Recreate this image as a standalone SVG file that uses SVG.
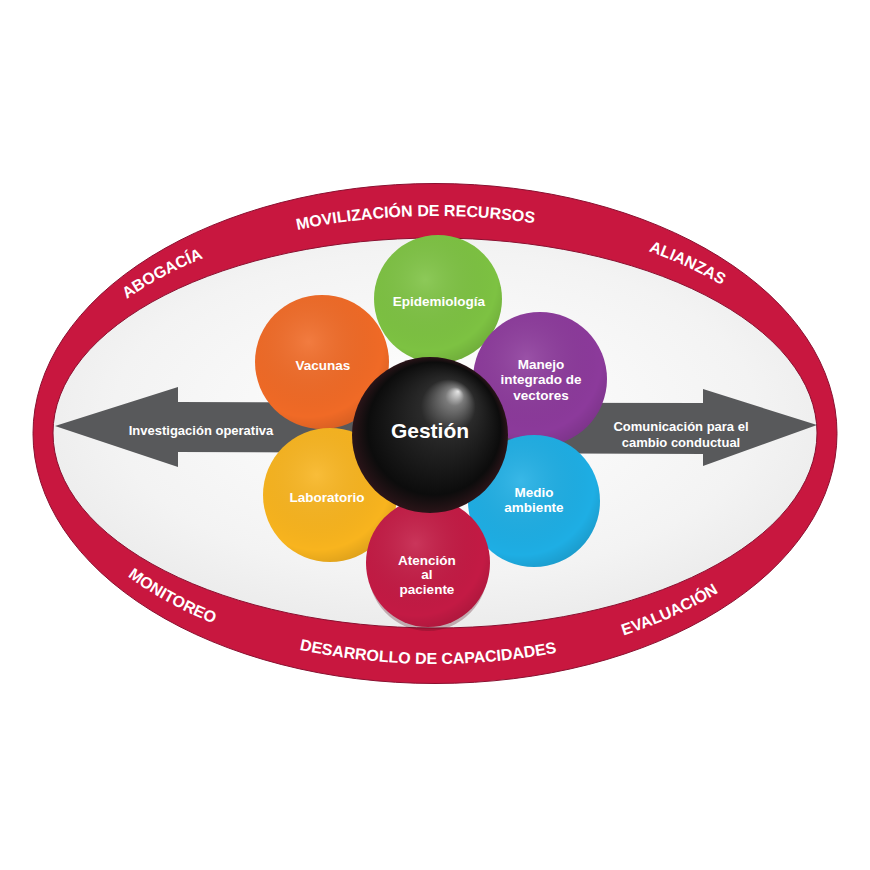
<svg xmlns="http://www.w3.org/2000/svg" width="870" height="870" viewBox="0 0 870 870">
<defs>
<style>
.ring{font-family:"Liberation Sans","DejaVu Sans",sans-serif;font-weight:bold;font-size:16px;fill:#ffffff}
.pl{font-family:"Liberation Sans","DejaVu Sans",sans-serif;font-weight:bold;font-size:13.5px;fill:#ffffff;text-anchor:middle}
.al{font-family:"Liberation Sans","DejaVu Sans",sans-serif;font-weight:bold;font-size:13px;fill:#ffffff;text-anchor:middle}
.petal{stroke:none}
</style>
<radialGradient id="bg" cx="50%" cy="45%" r="60%">
<stop offset="0" stop-color="#ffffff"/>
<stop offset="0.7" stop-color="#f3f3f3"/>
<stop offset="1" stop-color="#e9e9e9"/>
</radialGradient>
<radialGradient id="sphere" cx="50%" cy="50%" r="50%" fx="68%" fy="22%">
<stop offset="0" stop-color="#e8e8e8"/>
<stop offset="0.12" stop-color="#7a7a7a"/>
<stop offset="0.35" stop-color="#2a2a2a"/>
<stop offset="0.85" stop-color="#0c0c0c"/>
<stop offset="1" stop-color="#2a1418"/>
</radialGradient>
<radialGradient id="shade" cx="40%" cy="35%" r="70%">
<stop offset="0" stop-color="#ffffff" stop-opacity="0.12"/>
<stop offset="0.8" stop-color="#000000" stop-opacity="0"/>
<stop offset="1" stop-color="#000000" stop-opacity="0.12"/>
</radialGradient>
<path id="topArc" d="M 43 433 A 392 217 0 0 1 827 433"/>
<path id="botArc" d="M 43 433 A 392 231 0 0 0 827 433"/>
</defs>
<rect width="870" height="870" fill="#ffffff"/>
<g id="ring">
<ellipse cx="435" cy="433.5" rx="402" ry="250" fill="#c8173f" stroke="#8a1030" stroke-width="1"/>
<ellipse cx="435" cy="433" rx="382" ry="195" fill="url(#bg)" stroke="#8a1030" stroke-width="1"/>
<text class="ring"><textPath href="#topArc" startOffset="21.3%" text-anchor="middle">ABOGACÍA</textPath></text>
<text class="ring"><textPath href="#topArc" startOffset="48%" text-anchor="middle">MOVILIZACIÓN DE RECURSOS</textPath></text>
<text class="ring"><textPath href="#topArc" startOffset="76.4%" text-anchor="middle">ALIANZAS</textPath></text>
<text class="ring"><textPath href="#botArc" startOffset="22.3%" text-anchor="middle">MONITOREO</textPath></text>
<text class="ring"><textPath href="#botArc" startOffset="49.3%" text-anchor="middle">DESARROLLO  DE  CAPACIDADES</textPath></text>
<text class="ring"><textPath href="#botArc" startOffset="74.5%" text-anchor="middle">EVALUACIÓN</textPath></text>
</g>
<g id="connectors">
<path d="M 55 426 L 178 387 L 178 402 L 703 403 L 703 389 L 817 425 L 703 466 L 703 454 L 178 452 L 178 467 Z" fill="#58595b"/>
<text class="al" x="201" y="435">Investigación operativa</text>
<text class="al" x="681" y="431">Comunicación para el</text>
<text class="al" x="681" y="447">cambio conductual</text>
</g>
<g id="epidemiologia">
<circle class="petal" cx="438" cy="299" r="64" fill="#7dc242"/>
<circle cx="438" cy="299" r="64" fill="url(#shade)"/>
<text class="pl" x="439" y="306">Epidemiología</text>
</g>
<g id="vacunas">
<circle class="petal" cx="322" cy="362" r="67" fill="#f06a26"/>
<circle cx="322" cy="362" r="67" fill="url(#shade)"/>
<text class="pl" x="323" y="370">Vacunas</text>
</g>
<g id="manejo">
<circle class="petal" cx="540" cy="379" r="67" fill="#8c3a9b"/>
<circle cx="540" cy="379" r="67" fill="url(#shade)"/>
<text class="pl" x="541" y="369">Manejo</text>
<text class="pl" x="541" y="384">integrado de</text>
<text class="pl" x="541" y="400">vectores</text>
</g>
<g id="laboratorio">
<circle class="petal" cx="330" cy="495" r="67" fill="#f8b41e"/>
<circle cx="330" cy="495" r="67" fill="url(#shade)"/>
<text class="pl" x="327" y="502">Laboratorio</text>
</g>
<g id="medio">
<circle class="petal" cx="534" cy="501" r="66" fill="#1eaee4"/>
<circle cx="534" cy="501" r="66" fill="url(#shade)"/>
<text class="pl" x="534" y="497">Medio</text>
<text class="pl" x="534" y="512">ambiente</text>
</g>
<g id="atencion">
<ellipse cx="428" cy="569" rx="60" ry="62" fill="#5a1020" opacity="0.3"/>
<ellipse class="petal" cx="428" cy="563" rx="62" ry="64" fill="#c31a44"/>
<ellipse cx="428" cy="563" rx="62" ry="64" fill="url(#shade)"/>
<text class="pl" x="427" y="565">Atención</text>
<text class="pl" x="427" y="579">al</text>
<text class="pl" x="427" y="594">paciente</text>
</g>
<g id="gestion">
<circle cx="430" cy="435" r="78" fill="url(#sphere)"/>
<text x="430" y="438" text-anchor="middle" font-family="'Liberation Sans','DejaVu Sans',sans-serif" font-weight="bold" font-size="21" fill="#ffffff">Gestión</text>
</g>
</svg>
